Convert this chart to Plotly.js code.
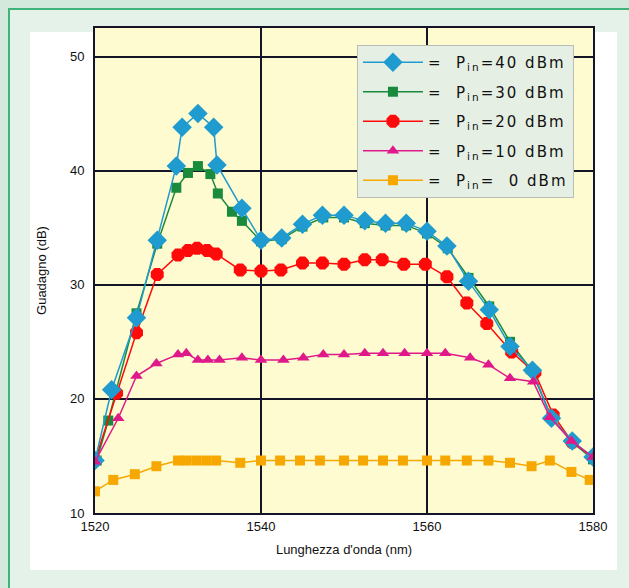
<!DOCTYPE html>
<html>
<head>
<meta charset="utf-8">
<script src="https://cdn.plot.ly/plotly-3.0.1.min.js"></script>
<style>
  html, body { margin: 0; padding: 0; width: 629px; height: 588px; overflow: hidden; background: #d3e9dc; }
  #frame { position: absolute; left: 8px; top: 8px; width: 630px; height: 590px; border-left: 2px solid #3fb37a; border-top: 2px solid #3fb37a; background: #e4f2ea; }
  #panel { position: absolute; left: 30px; top: 32px; width: 587px; height: 538px; background: #ffffff; }
  #chart { position: absolute; left: 0; top: 0; width: 629px; height: 588px; }
  .legendtext { letter-spacing: 2px; }
</style>
</head>
<body>
<div id="frame"></div>
<div id="panel"></div>
<div id="chart"></div>
<script>
// ---- data ----
const xTicks = [1520, 1540, 1560, 1580];
const xTickText = ['1520', '1540', '1560', '1580'];
const yTicks = [10, 20, 30, 40, 50];

const seriesNames = ['=  P<sub>in</sub>=40 dBm', '=  P<sub>in</sub>=30 dBm', '=  P<sub>in</sub>=20 dBm', '=  P<sub>in</sub>=10 dBm', '=  P<sub>in</sub>=  0 dBm'];

const x40 = [1520, 1522, 1525, 1527.5, 1529.8, 1530.5, 1532.4, 1534.3, 1534.7, 1537.7, 1540, 1542.5, 1545, 1547.4, 1550, 1552.5, 1555, 1557.5, 1560, 1562.4, 1565, 1567.5, 1570, 1572.7, 1575, 1577.5, 1580];
const y40 = [14.6, 20.8, 27.1, 33.9, 40.4, 43.8, 45.0, 43.8, 40.5, 36.7, 33.9, 34.1, 35.3, 36.1, 36.1, 35.6, 35.4, 35.4, 34.7, 33.4, 30.3, 27.8, 24.6, 22.5, 18.3, 16.3, 14.9];

const x30 = [1520.2, 1521.6, 1525, 1527.5, 1529.8, 1531.2, 1532.4, 1533.9, 1534.8, 1536.5, 1537.7, 1540, 1542.5, 1545, 1547.5, 1550, 1552.5, 1555, 1557.5, 1560, 1562.5, 1565, 1567.5, 1570, 1572.5, 1575, 1577.5, 1580];
const y30 = [14.6, 18.1, 27.5, 33.6, 38.5, 39.8, 40.4, 39.7, 38.0, 36.4, 35.6, 33.8, 34.0, 35.1, 35.9, 35.9, 35.4, 35.2, 35.2, 34.5, 33.2, 30.6, 28.1, 25.0, 22.6, 18.4, 16.2, 14.7];

const x20 = [1520, 1522.6, 1525, 1527.5, 1530, 1531.2, 1532.3, 1533.5, 1534.6, 1537.5, 1540, 1542.4, 1545, 1547.4, 1550, 1552.5, 1554.6, 1557.2, 1559.8, 1562.4, 1564.8, 1567.2, 1570.2, 1573, 1575.2, 1577.5, 1580];
const y20 = [14.6, 20.5, 25.8, 30.9, 32.6, 33.0, 33.2, 33.0, 32.7, 31.3, 31.2, 31.3, 31.9, 31.9, 31.8, 32.2, 32.2, 31.8, 31.8, 30.7, 28.4, 26.6, 24.1, 22.3, 18.6, 16.2, 14.9];

const x10 = [1520, 1522.8, 1525, 1527.4, 1530, 1531, 1532.4, 1533.6, 1535, 1537.7, 1540, 1542.7, 1545.1, 1547.5, 1550, 1552.5, 1554.7, 1557.3, 1560, 1562.2, 1565.2, 1567.4, 1570, 1572.8, 1574.8, 1577.4, 1580];
const y10 = [14.5, 18.3, 22.0, 23.1, 23.9, 24.0, 23.4, 23.4, 23.4, 23.6, 23.4, 23.4, 23.6, 23.9, 23.9, 24.0, 24.0, 24.0, 24.0, 24.0, 23.6, 23.0, 21.8, 21.5, 18.4, 16.3, 14.9];

const x0 = [1520, 1522.2, 1524.8, 1527.4, 1530, 1531, 1532.2, 1533.4, 1534.6, 1537.5, 1540, 1542.3, 1544.7, 1547.1, 1550, 1552.3, 1554.7, 1557.1, 1560, 1562.2, 1564.8, 1567.4, 1570, 1572.6, 1574.8, 1577.4, 1579.6];
const y0 = [11.9, 12.9, 13.4, 14.1, 14.6, 14.6, 14.6, 14.6, 14.6, 14.4, 14.6, 14.6, 14.6, 14.6, 14.6, 14.6, 14.6, 14.6, 14.6, 14.6, 14.6, 14.6, 14.4, 14.1, 14.6, 13.6, 12.9];

// ---- traces (drawing order: green, red, blue, magenta, orange) ----
const traces = [
  { x: x30, y: y30, name: seriesNames[1], legendrank: 2, legendgroup: 'g30', mode: 'lines+markers',
    line: { color: '#1a8a3c', width: 1.5 }, marker: { symbol: 'square', size: 10, color: '#1a8a3c' } },
  { x: x20, y: y20, name: seriesNames[2], legendrank: 3, legendgroup: 'g20', mode: 'lines+markers',
    line: { color: '#ff0a0a', width: 1.5 }, marker: { symbol: 'octagon', size: 14, color: '#ff0a0a' } },
  { x: x40, y: y40, name: seriesNames[0], legendrank: 1, legendgroup: 'g40', mode: 'lines+markers',
    line: { color: '#1f9bd0', width: 1.5 }, marker: { symbol: 'diamond', size: 15, color: '#1f9bd0' } },
  { x: x10, y: y10, name: seriesNames[3], legendrank: 4, legendgroup: 'g10', mode: 'lines+markers',
    line: { color: '#e0198a', width: 1.5 }, marker: { symbol: 'triangle-up', size: 11, color: '#e0198a' } },
  { x: x0, y: y0, name: seriesNames[4], legendrank: 5, legendgroup: 'g0', mode: 'lines+markers',
    line: { color: '#f7a800', width: 1.5 }, marker: { symbol: 'square', size: 10, color: '#f7a800' } }
];

const layout = {
  width: 629, height: 588,
  paper_bgcolor: 'rgba(0,0,0,0)',
  plot_bgcolor: '#fdfbcf',
  margin: { l: 95, r: 36, t: 28, b: 75 },
  font: { family: 'Liberation Sans, Arial, sans-serif', size: 12, color: '#111111' },
  showlegend: true,
  legend: {
    x: 0.526, y: 0.965, xanchor: 'left', yanchor: 'top',
    bgcolor: '#e6efe4', bordercolor: '#b8bdb8', borderwidth: 1,
    font: { family: 'DejaVu Sans, sans-serif', size: 15, color: '#111111' },
    itemwidth: 60,
    tracegroupgap: 7,
    traceorder: 'grouped'
  },
  xaxis: {
    range: [1520, 1580],
    tickvals: xTicks, ticktext: xTickText,
    showgrid: true, gridcolor: '#15152a', gridwidth: 2,
    showline: true, linecolor: '#15152a', linewidth: 2, mirror: true,
    zeroline: false, ticks: '',
    tickfont: { size: 13 },
    title: { text: "Lunghezza d'onda (nm)", font: { size: 13 }, standoff: 12 }
  },
  yaxis: {
    range: [10, 52.5],
    tickvals: yTicks,
    showgrid: true, gridcolor: '#15152a', gridwidth: 2,
    showline: true, linecolor: '#15152a', linewidth: 2, mirror: true,
    zeroline: false, ticks: '',
    ticklabelstandoff: 6,
    tickfont: { size: 13 },
    title: { text: 'Guadagno (dB)', font: { size: 13 }, standoff: 20 }
  }
};

Plotly.newPlot('chart', traces, layout, { displayModeBar: false, staticPlot: true });
</script>
</body>
</html>
